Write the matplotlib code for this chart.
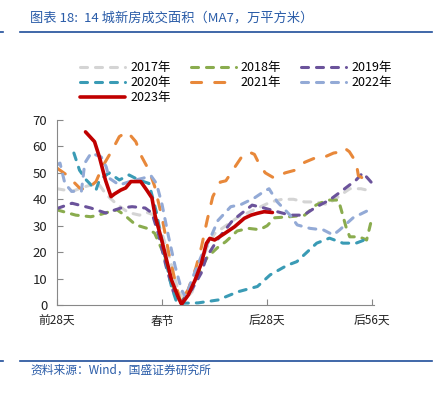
import matplotlib.pyplot as plt
from matplotlib.lines import Line2D

plt.rcParams['font.family'] = ['Noto Sans CJK SC', 'DejaVu Sans']

# ---- data (MA7, 万平方米), x = days relative to Spring Festival ----
d17 = [-28, -24, -20, -17, -15, -12, -9, -6, -4, -2, 0, 2, 4, 6, 8, 10, 12, 14, 17, 20, 23, 26, 29, 32, 35, 38, 41, 44, 47, 50, 53, 56]
v17 = [44, 43, 45, 46, 42, 38, 35, 34, 35, 34, 27, 18, 7, 2, 5, 14, 22, 27, 30, 33, 35, 37, 39, 40, 40, 39, 39, 38, 41, 44, 44, 43]

d18 = [-28, -23, -19, -17, -14, -12, -10, -7, -4, -2, 0, 2, 3.5, 5, 7, 9, 12, 15, 17, 20, 23, 26, 28, 30, 34, 38, 41, 44, 47, 48, 49, 50, 52.5, 54.5, 56]
v18 = [36, 34, 33.4, 34, 35.3, 36, 34, 30.3, 29, 27.2, 20.8, 12, 4.5, 1.3, 4, 10, 18, 22, 24, 28, 29, 28.5, 30, 33, 33.4, 34, 37.8, 39.7, 39.7, 34.7, 29.6, 25.8, 25.8, 24.6, 33.4]

d19 = [-28, -24, -19, -15, -11, -8, -4.5, -2.7, -1, 1, 3, 5, 8, 10.4, 11.8, 14.9, 18.8, 24, 27.2, 30.7, 34.1, 37.7, 41.2, 44.6, 48.2, 51.7, 53.5, 55.2, 56]
v19 = [36.5, 38.5, 36.7, 34.8, 36.7, 37.2, 36.7, 34.8, 27, 15, 5, 0.8, 6, 12, 18, 25, 32, 37.8, 36.7, 35.3, 34, 34, 37.2, 39.7, 43.5, 47.3, 50, 47.3, 46]

d20 = [-23.5, -22, -20.2, -17.6, -16.7, -14.1, -11.4, -8.8, -6.2, -3.5, -1.5, 0.5, 2.5, 4, 6, 9.6, 14.9, 20.2, 25.4, 28.8, 33.3, 35.9, 41.2, 44.6, 48.2, 51.7, 55.2]
v20 = [57.5, 51, 47.3, 43.5, 47.3, 50, 47.3, 49.2, 47.3, 46, 35, 20, 7, 0.5, 0.7, 0.8, 1.9, 5, 7, 11.4, 15, 16.4, 23.4, 25.3, 23.4, 23.4, 25.3]

d21 = [-28, -25.4, -22, -20.2, -17.6, -15.9, -13.3, -11.4, -9.3, -7, -5.4, -3.5, -2, 0, 2, 4,
       5, 7, 9, 10.5, 12, 13.5, 15.5, 17, 19.3, 21, 23, 24.6, 26, 27.5, 29.9, 32.8, 35.4, 38, 40.7, 43.3, 45.7, 47.8, 48.6, 49.9, 51.7, 52.3, 55.2]
v21 = [51.8, 49.2, 44.3, 43.5, 46.7, 52.3, 58.6, 63.7, 65.6, 61.8, 56, 51, 45, 33, 18, 6,
       1, 6, 14, 22, 32, 41, 46.5, 47, 52, 55.6, 58, 57, 53, 50, 48, 50, 51, 54, 55.6, 56, 57.5, 58, 59.4, 58, 54, 49, 46.5]

d22 = [-28, -27.2, -25.9, -24.1, -21.5, -20.6, -18.9, -16.2, -14.9, -14.1, -11.4, -8, -5, -3, -1.5, 0, 1.7, 3.5, 5.2, 6.3, 7.9, 10.4, 13, 14.9, 18.3, 21, 24.6, 27.2, 28.5, 30.7, 34.1, 36, 39.4, 43, 45.6, 47.3, 50.9, 55.2, 56]
v22 = [53, 53.7, 46, 43, 43, 53.7, 57.5, 56, 52.3, 48, 45.4, 47, 48, 49, 46, 38, 26, 14.5, 5.7, 3, 9.5, 18.3, 25.8, 32, 37.2, 38, 40.5, 43, 44, 39, 34, 30.3, 29, 28.4, 26.5, 28.4, 33, 36, 36]

d23 = [-20.4, -18, -16.7, -15.1, -13.6, -12.7, -11, -9.7, -8.3, -5.7, -4.1, -2.7, -1.8, -0.1, 1.2, 2.5, 4.4, 5.2, 7, 8.8, 10.5, 11.8, 12.7, 14, 16.7, 19.3, 21.9, 23.7, 25.4, 27.2, 29.4]
v23 = [65.5, 61.8, 56, 47.3, 41, 42, 43.5, 44.3, 46.7, 46.7, 43.5, 40.5, 33.4, 24.6, 17, 9.5, 2.6, 0.3, 3.8, 9.5, 15.9, 23.3, 25.2, 24.6, 27.1, 29.6, 32.8, 34, 34.7, 35.3, 35]

series = [
    ('2017年', d17, v17, '#d4d4d4'),
    ('2018年', d18, v18, '#8aac4e'),
    ('2019年', d19, v19, '#6b539b'),
    ('2020年', d20, v20, '#3a9bb5'),
    ('2021年', d21, v21, '#e8883a'),
    ('2022年', d22, v22, '#93aad6'),
    ('2023年', d23, v23, '#c00000'),
]
xticks = [-28, 0, 28, 56]
xlabels = ['前28天', '春节', '后28天', '后56天']

fig = plt.figure(figsize=(4.41, 3.94), dpi=100)
ax = fig.add_axes([57 / 441, 1 - 305 / 394, 319 / 441, 185 / 394])

handles = {}
for name, d, v, c in series:
    if name == '2023年':
        ln, = ax.plot(d, v, color=c, lw=2.6, solid_capstyle='round', zorder=5)
    elif name == '2021年':
        ln, = ax.plot(d, v, color=c, lw=2.2, dashes=(3.3, 4.3), dash_capstyle='round')
    else:
        ln, = ax.plot(d, v, color=c, lw=2.2, dashes=(2.3, 2.6), dash_capstyle='round')
    handles[name] = ln

ax.set_xlim(-28, 57)
ax.set_ylim(0, 70)
ax.set_yticks(range(0, 71, 10))
ax.set_xticks(xticks)
ax.set_xticklabels(xlabels)
for s in ['top', 'right']:
    ax.spines[s].set_visible(False)
for s in ['left', 'bottom']:
    ax.spines[s].set_color('#888888')
    ax.spines[s].set_linewidth(0.8)
ax.spines['bottom'].set_bounds(-28, 56.5)
ax.tick_params(direction='in', length=4, color='#888888', labelsize=9.5, labelcolor='#222222')
ax.tick_params(axis='y', pad=7)
ax.tick_params(axis='x', pad=7, labelsize=8.5)

order = ['2017年', '2020年', '2023年', '2018年', '2021年', '2019年', '2022年']
fig.legend([handles[k] for k in order], order, ncol=3, loc='upper center',
           bbox_to_anchor=(0.535, 0.86), frameon=False, fontsize=9,
           handlelength=3.6, columnspacing=1.6, handletextpad=0.4,
           labelspacing=0.15, borderpad=0)

# title and footer
blue = '#2a5ca8'
fig.text(30 / 441, 1 - 18 / 394, '图表 18:  14 城新房成交面积（MA7，万平方米）',
         color=blue, fontsize=9.5, va='center', ha='left')
fig.add_artist(Line2D([20 / 441, 432 / 441], [1 - 32 / 394] * 2, color='#1f4e9a', lw=1.2))
fig.add_artist(Line2D([0, 3 / 441], [1 - 32 / 394] * 2, color='#1f4e9a', lw=1.2))
fig.add_artist(Line2D([20 / 441, 432 / 441], [1 - 361 / 394] * 2, color='#1f4e9a', lw=1.2))
fig.add_artist(Line2D([0, 3 / 441], [1 - 361 / 394] * 2, color='#1f4e9a', lw=1.2))
fig.text(30 / 441, 1 - 370 / 394, '资料来源：Wind，国盛证券研究所',
         color=blue, fontsize=8.5, va='center', ha='left')

fig.savefig('out.png', dpi=100)
